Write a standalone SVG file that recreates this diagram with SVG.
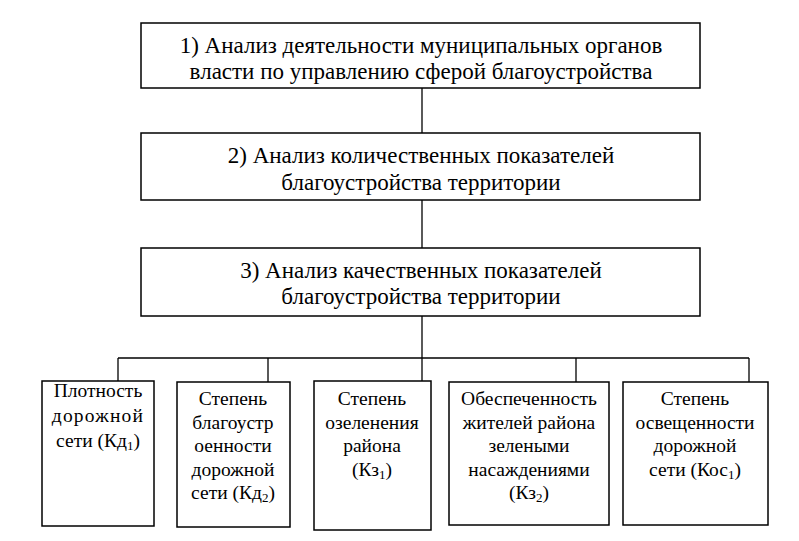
<svg xmlns="http://www.w3.org/2000/svg" width="799" height="541" viewBox="0 0 799 541">
<style>
.box{fill:#fff;stroke:#000;stroke-width:1.5}
.ln{fill:none;stroke:#000;stroke-width:1.3}
.t{font-size:23px;fill:#000;text-anchor:middle}
.s{font-size:19.5px;fill:#000;text-anchor:middle}
.sub{font-size:13px}
</style>
<rect width="799" height="541" fill="#fff"/>
<g id="connectors">
<line class="ln" x1="422" y1="88" x2="422" y2="133"/>
<line class="ln" x1="422" y1="200" x2="422" y2="248"/>
<line class="ln" x1="422" y1="316" x2="422" y2="381"/>
<line class="ln" x1="118" y1="358" x2="749" y2="358"/>
<line class="ln" x1="118" y1="358" x2="118" y2="381"/>
<line class="ln" x1="268" y1="358" x2="268" y2="382"/>
<line class="ln" x1="576" y1="358" x2="576" y2="382"/>
<line class="ln" x1="749" y1="358" x2="749" y2="382"/>
</g>
<g font-family="'Liberation Serif', 'Times New Roman', serif">
<g id="n1">
<rect class="box" x="141" y="23" width="559" height="65"/>
<text class="t" x="421" y="53">1) Анализ деятельности муниципальных органов</text>
<text class="t" x="421" y="79">власти по управлению сферой благоустройства</text>
</g>
<g id="n2">
<rect class="box" x="141" y="133" width="559" height="67"/>
<text class="t" x="421" y="163">2) Анализ количественных показателей</text>
<text class="t" x="421" y="190">благоустройства территории</text>
</g>
<g id="n3">
<rect class="box" x="141" y="248" width="559" height="68"/>
<text class="t" x="421" y="278">3) Анализ качественных показателей</text>
<text class="t" x="421" y="304">благоустройства территории</text>
</g>
<g id="a">
<rect class="box" x="42" y="381" width="112" height="145"/>
<text class="s" x="98" y="397">Плотность</text>
<text class="s" x="98" y="422" letter-spacing="1.2">дорожной</text>
<text class="s" x="98" y="447">сети (Кд<tspan class="sub" dy="3">1</tspan><tspan dy="-3">)</tspan></text>
</g>
<g id="b">
<rect class="box" x="177" y="382" width="113" height="145"/>
<text class="s" x="233" y="405">Степень</text>
<text class="s" x="233" y="428.5">благоустр</text>
<text class="s" x="233" y="452">оенности</text>
<text class="s" x="233" y="475.5">дорожной</text>
<text class="s" x="233" y="499">сети (Кд<tspan class="sub" dy="3">2</tspan><tspan dy="-3">)</tspan></text>
</g>
<g id="c">
<rect class="box" x="314" y="381" width="117" height="149"/>
<text class="s" x="372" y="405">Степень</text>
<text class="s" x="372" y="428.5">озеленения</text>
<text class="s" x="372" y="452">района</text>
<text class="s" x="372" y="475.5">(Кз<tspan class="sub" dy="3">1</tspan><tspan dy="-3">)</tspan></text>
</g>
<g id="d">
<rect class="box" x="449" y="382" width="160" height="143"/>
<text class="s" x="529" y="405">Обеспеченность</text>
<text class="s" x="529" y="428.5">жителей района</text>
<text class="s" x="529" y="452">зелеными</text>
<text class="s" x="529" y="475.5">насаждениями</text>
<text class="s" x="529" y="499">(Кз<tspan class="sub" dy="3">2</tspan><tspan dy="-3">)</tspan></text>
</g>
<g id="e">
<rect class="box" x="623" y="382" width="145" height="143"/>
<text class="s" x="695" y="405">Степень</text>
<text class="s" x="695" y="428.5">освещенности</text>
<text class="s" x="695" y="452">дорожной</text>
<text class="s" x="695" y="475.5">сети (Кос<tspan class="sub" dy="3">1</tspan><tspan dy="-3">)</tspan></text>
</g>
</g>
</svg>
